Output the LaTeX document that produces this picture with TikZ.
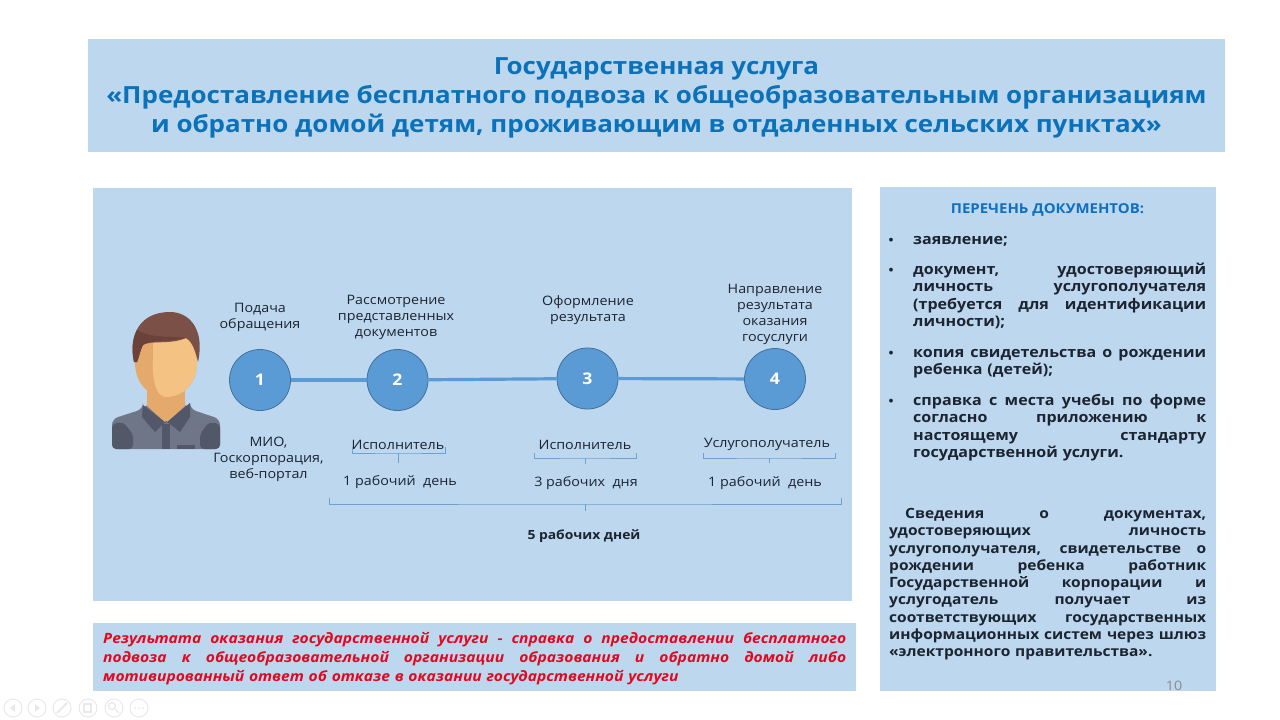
\documentclass[tikz,border=0pt]{standalone}
\usepackage{fontspec}
\setmainfont{Open Sans}[FakeStretch=1.1]
\definecolor{panel}{HTML}{BDD7EE}
\definecolor{titleblue}{HTML}{0B72BA}
\definecolor{headblue}{HTML}{0F6FC0}
\definecolor{ink}{HTML}{1B2430}
\definecolor{nodeblue}{HTML}{5B9BD5}
\definecolor{nodeedge}{HTML}{41719C}
\definecolor{redtext}{HTML}{E00A20}
\definecolor{brace}{HTML}{6FA0CF}
\definecolor{tool}{HTML}{E9E9E9}
\definecolor{hair}{HTML}{7B5046}
\definecolor{hairdk}{HTML}{6A4239}
\definecolor{skin}{HTML}{F4C283}
\definecolor{skindk}{HTML}{E6A96C}
\definecolor{shirt}{HTML}{6F7688}
\definecolor{shirtdk}{HTML}{525868}
\newcommand{\jl}[1]{\leavevmode\hbox to \hsize{\spaceskip=.28em plus 1fil\relax #1}\\}
\tikzset{
  x=1pt,y=-1pt,
  panelbox/.style={fill=panel,draw=none},
  stepnum/.style={circle,draw=nodeedge,line width=0.8pt,fill=nodeblue,minimum size=61pt,inner sep=0pt,text=white,font=\fontsize{16}{16}\bfseries\selectfont},
  caption/.style={align=center,text=ink,inner sep=0pt,font=\fontsize{13}{16}\selectfont},
  captionb/.style={caption,font=\fontsize{12.6}{16}\bfseries\selectfont},
  link/.style={draw=nodeblue,line width=3.2pt},
  bracket/.style={draw=brace,line width=0.8pt},
  listtext/.style={anchor=north west,inner sep=0pt,text=ink,align=left,font=\fontsize{14.6}{17.3}\bfseries\selectfont},
  infotext/.style={listtext,font=\fontsize{14.1}{17.3}\bfseries\selectfont},
  toolbtn/.style={circle,draw=tool,line width=1pt,minimum size=18pt,inner sep=0pt},
}
\begin{document}
\begin{tikzpicture}
\useasboundingbox (0,0) rectangle (1280,720);
\fill[white] (0,0) rectangle (1280,720);
% panels
\path[panelbox] (88,39) rectangle (1225,152);
\path[panelbox] (93,188) rectangle (852,601);
\path[panelbox] (880,187) rectangle (1216,691);
\path[panelbox] (93,623) rectangle (856,691);
% title
\node[name=title,align=center,text=titleblue,inner sep=0pt,font=\fontsize{23.6}{29}\bfseries\selectfont] at (656.5,98)
 {Государственная услуга\\«Предоставление бесплатного подвоза к общеобразовательным организациям\\и обратно домой детям, проживающим в отдаленных сельских пунктах»};
% person
\begin{scope}
\fill[skindk] (147,385) rectangle (185,425);
\fill[shirt,rounded corners=6pt] (112,449) -- (112,419) -- (143,409) -- (143,405) -- (190,405) -- (190,409) -- (220,419) -- (220,449) -- cycle;
\fill[shirtdk,rounded corners=4pt] (112,449) -- (112,424) -- (123,422) -- (133,434) -- (133,449) -- cycle;
\fill[shirtdk,rounded corners=4pt] (220,449) -- (220,424) -- (209,422) -- (200,434) -- (200,449) -- cycle;
\fill[skindk] (147,400) -- (185,400) -- (185,406) -- (166,423) -- (147,406) -- cycle;
\fill[shirtdk] (143,405) -- (166,423) -- (190,403) -- (190,417) -- (180,432) -- (166,421) -- (155,432) -- (142,417) -- cycle;
\fill[shirtdk] (162,424) -- (170,424) -- (170,449) -- (162,449) -- cycle;
\fill[shirtdk] (177,445) rectangle (195,449);
\fill[skindk] (135,362) .. controls (135,340) and (150,330) .. (166,330) .. controls (185,330) and (197,342) .. (197,362) .. controls (197,385) and (182,397) .. (166,397) .. controls (150,397) and (135,385) .. (135,362) -- cycle;
\fill[skin] (153,332) .. controls (175,326) and (197,340) .. (197,362) .. controls (197,385) and (182,397) .. (166,397) .. controls (158,397) and (152,385) .. (153,362) -- cycle;
\fill[hair] (134,362) .. controls (128,335) and (140,312) .. (170,312) .. controls (190,312) and (205,330) .. (198,362) .. controls (194,345) and (190,340) .. (186,338) .. controls (170,345) and (150,340) .. (143,345) .. controls (140,350) and (139,358) .. (137,362) -- cycle;
\fill[hairdk] (134,362) .. controls (131,348) and (133,338) .. (137,330) .. controls (150,338) and (165,336) .. (186,338) .. controls (165,342) and (150,340) .. (143,345) .. controls (140,350) and (139,358) .. (137,362) -- cycle;
\end{scope}
% steps
\node[stepnum] (s1) at (260,380) {1};
\node[stepnum] (s2) at (397.5,380) {2};
\node[stepnum] (s3) at (587.5,378.5) {3};
\node[stepnum] (s4) at (775,379) {4};
\draw[link] (s1) -- (s2);
\draw[link] (s2) -- (s3);
\draw[link] (s3) -- (s4);
% captions above
\node[caption] (c1) at (260,317) {Подача\\обращения};
\node[caption] (c2) at (396,317) {Рассмотрение\\представленных\\документов};
\node[caption] (c3) at (588,310.5) {Оформление\\результата};
\node[caption] (c4) at (775,314.5) {Направление\\результата\\оказания\\госуслуги};
% captions below
\node[caption] (w1) at (268.5,459) {МИО,\\Госкорпорация,\\веб-портал};
\node[caption] (w2) at (398,445) {Исполнитель};
\node[caption] (w3) at (585,444.5) {Исполнитель};
\node[caption] (w4) at (767,444.5) {Услугополучатель};
\node[caption] (d2) at (400,482.5) {1 рабочий\ \ день};
\node[caption] (d3) at (586,483.5) {3 рабочих\ \ дня};
\node[caption] (d4) at (765,483.5) {1 рабочий\ \ день};
\node[captionb] (total) at (584,536.5) {5 рабочих дней};
% brackets
\coordinate (b2) at (398,463);
\coordinate (b3) at (585,464);
\coordinate (b4) at (769,463);
\coordinate (bt) at (585,511);
\draw[bracket] (352,447) |- (398,453) -| (445,447);
\draw[bracket] (398,453) -- (b2);
\draw[bracket] (534,453) |- (585,458) -| (636,453);
\draw[bracket] (585,458) -- (b3);
\draw[bracket] (703,453) |- (769,458) -| (835,453);
\draw[bracket] (769,458) -- (b4);
\draw[bracket] (329,498) |- (585,504) -| (841,498);
\draw[bracket] (585,504) -- (bt);
% right panel
\node[name=listhead,text=headblue,inner sep=0pt,font=\fontsize{13.6}{16}\bfseries\selectfont] at (1047.5,209.5) {ПЕРЕЧЕНЬ ДОКУМЕНТОВ:};
\node[listtext,text width=293pt] (l1) at (913,236) {заявление;};
\node[listtext,text width=293pt] (l2) at (913,263) {\jl{документ, удостоверяющий}\jl{личность услугополучателя}\jl{(требуется для идентификации}личности);};
\node[listtext,text width=293pt] (l3) at (913,349) {\jl{копия свидетельства о рождении}ребенка (детей);};
\node[listtext,text width=293pt] (l4) at (913,394) {\jl{справка с места учебы по форме}\jl{согласно приложению к}\jl{настоящему стандарту}государственной услуги.};
\foreach \n/\y in {b1/241,b2x/271,b3x/354,b4x/402} \node[inner sep=0pt,text=ink,font=\fontsize{12}{12}\bfseries\selectfont] (\n) at (891,\y) {•};
\node[infotext,text width=317pt] (info) at (889,508) {\jl{\hspace*{16pt}Сведения о документах,}\jl{удостоверяющих личность}\jl{услугополучателя, свидетельстве о}\jl{рождении ребенка работник}\jl{Государственной корпорации и}\jl{услугодатель получает из}\jl{соответствующих государственных}\jl{информационных систем через шлюз}«электронного правительства».};
% result
\node[anchor=north west,inner sep=0pt,text=redtext,text width=743pt,align=left,font=\fontsize{14.2}{19}\bfseries\itshape\selectfont] (res) at (103,632.5)
 {\jl{Результата оказания государственной услуги - справка о предоставлении бесплатного}\jl{подвоза к общеобразовательной организации образования и обратно домой либо}мотивированный ответ об отказе в оказании государственной услуги};
\node[text=black!45,inner sep=0pt,font=\fontsize{13}{13}\selectfont] (pg) at (1174,686) {10};
% toolbar
\foreach \n/\xx in {t1/13,t2/37,t3/62,t4/88,t5/114,t6/139} \node[toolbtn] (\n) at (\xx,708) {};
\fill[tool] (15,704) -- (10,708) -- (15,712) -- cycle;
\fill[tool] (35,704) -- (40,708) -- (35,712) -- cycle;
\draw[tool,line width=2pt] (57,713) -- (67,703);
\draw[tool,line width=1.2pt] (84,704) rectangle (91,712);
\draw[tool,line width=1.2pt] (112,706) circle (3.5);
\draw[tool,line width=1.2pt] (115,709) -- (119,713);
\foreach \xx in {135,139,143} \fill[tool] (\xx,708) circle (1);
\end{tikzpicture}
\end{document}
